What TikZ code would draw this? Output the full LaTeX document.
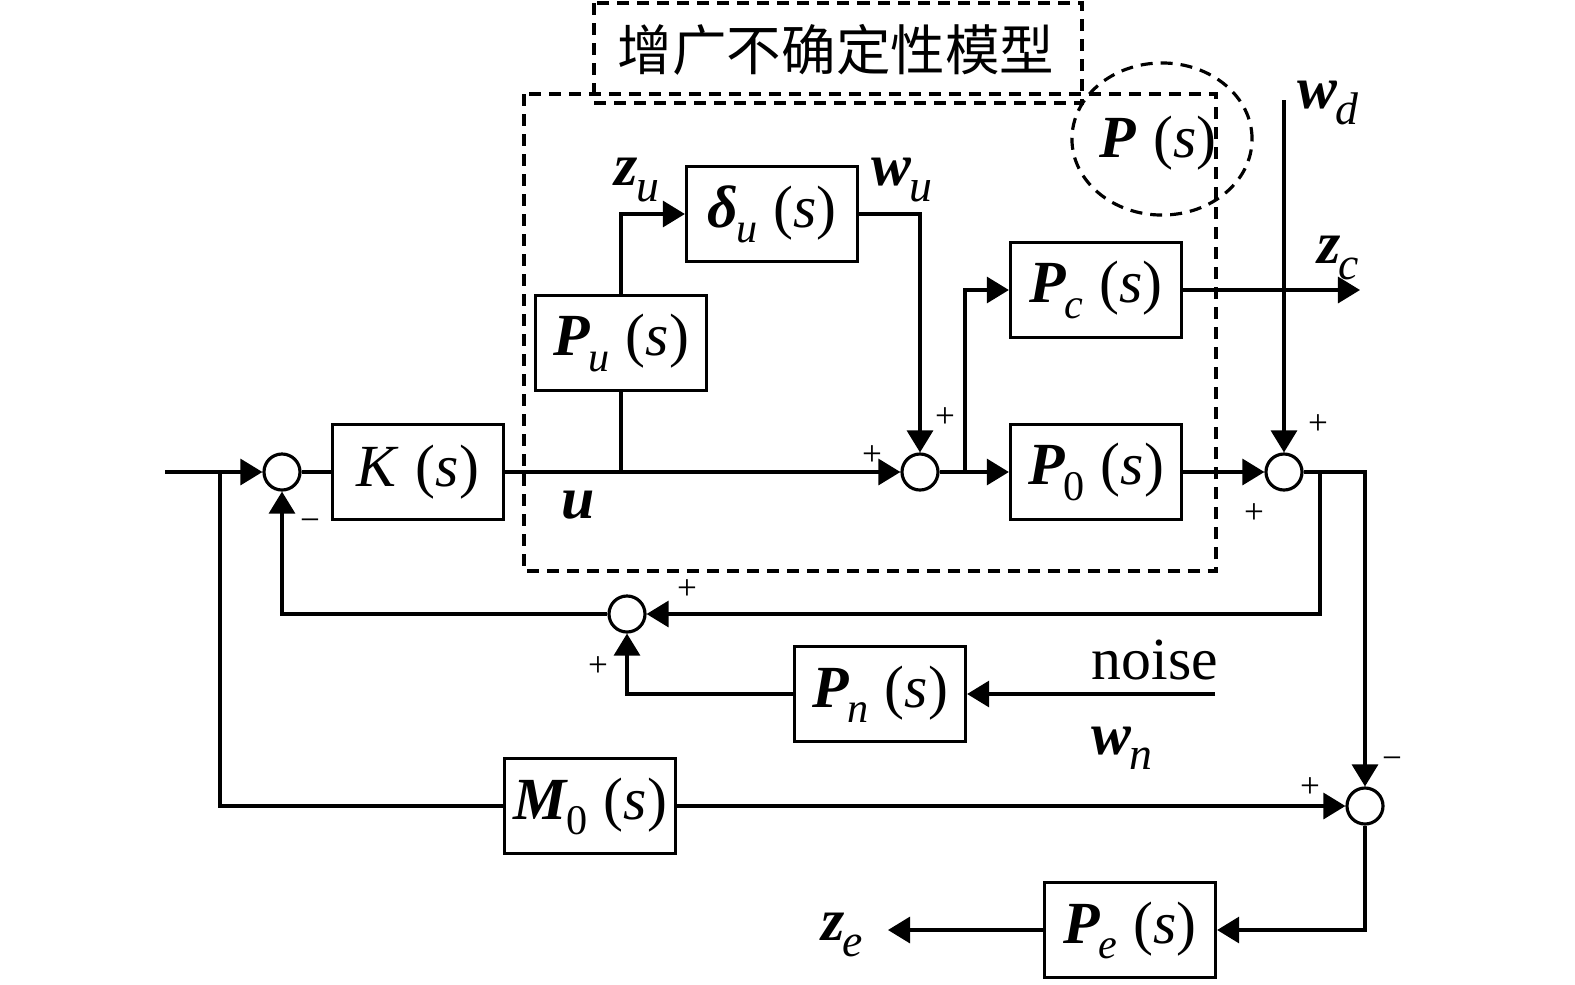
\documentclass[tikz,border=0pt]{standalone}
\usepackage{fontspec}
\setmainfont{Liberation Serif}
\newfontfamily\cjk{Noto Sans CJK SC}
\usetikzlibrary{arrows, arrows.meta}
\usetikzlibrary{calc}

\newcommand{\tf}[2]{\textbf{\textit{#1}}\kern-0.5pt\raisebox{-0.55ex}{\fontsize{12}{14}\selectfont\textit{#2}}\;(\textit{s})}
\newcommand{\sg}[2]{\textbf{\textit{#1}}\kern-0.5pt\raisebox{-0.55ex}{\fontsize{13}{15}\selectfont\textit{#2}}}

\tikzset{
  blk/.style={draw, line width=0.9pt, minimum width=1.71cm, minimum height=0.95cm, inner sep=0pt, font=\fontsize{17}{20}\selectfont},
  sumpt/.style={draw, circle, line width=0.9pt, minimum size=0.36cm, inner sep=0pt},
  sig/.style={font=\fontsize{10}{12}\selectfont, inner sep=0pt},
  lbl/.style={font=\fontsize{17}{20}\selectfont, inner sep=0pt},
  ar/.style={-{Triangle[length=0.22cm, width=0.26cm]}},
  dsh/.style={dash pattern=on 0.12cm off 0.08cm, line width=0.9pt},
}

\begin{document}
\begin{tikzpicture}[x=0.01cm, y=-0.01cm, line width=0.9pt]
      \useasboundingbox (0,0) rectangle (1575,984);

      % dashed frames
      \draw[dsh] (524,94) rectangle (1216,571);
      \draw[dsh] (594,3) rectangle (1082,103);
      \node[inner sep=0pt, font=\cjk\fontsize{15.5}{18}\selectfont] (title) at (836,50) {增广不确定性模型};
      \draw[dsh] (1162,139) ellipse [x radius=0.9cm, y radius=0.76cm];
      \node[lbl] (Ps) at (1158,143) {\textbf{\textit{P}}\;(\textit{s})};

      % blocks and sums
      \node[sumpt] (s1) at (282,472) {};
      \node[blk] (K) at (418,472) {\textit{K}\;(\textit{s})};
      \node[sumpt] (s2) at (920,472) {};
      \node[blk] (Pu) at (621,343) {\tf{P}{u}};
      \node[blk] (Du) at (772,214) {\tf{δ}{u}};
      \node[blk] (Pc) at (1096,290) {\tf{P}{c}};
      \node[blk] (P0) at (1096,472) {\tf{P}{\textup{0}}};
      \node[sumpt] (s3) at (1284,472) {};
      \node[sumpt] (s5) at (627,614) {};
      \node[blk] (Pn) at (880,694) {\tf{P}{n}};
      \node[blk] (M0) at (590,806) {\tf{M}{\textup{0}}};
      \node[sumpt] (s4) at (1365,806) {};
      \node[blk] (Pe) at (1130,930) {\tf{P}{e}};

      \coordinate (in) at (165,472);
      \coordinate (br1) at (220,472);
      \coordinate (bu) at (621,472);
      \coordinate (bc) at (965,472);
      \coordinate (zc) at (1360,290);
      \coordinate (wd) at (1284,100);
      \coordinate (bo) at (1320,472);
      \coordinate (wn) at (1215,694);
      \coordinate (ze) at (888,930);

      % connectors
      \draw (in) -- (br1);
      \draw[ar] (br1) -- (s1);
      \draw (s1) -- (K);
      \draw[ar] (K) -- (s2);
      \draw (bu) -- (Pu.south);
      \draw[ar] (Pu.north) |- (Du);
      \draw[ar] (Du) -| (s2);
      \draw[ar] (s2) -- (P0);
      \draw[ar] (bc) |- (Pc);
      \draw[ar] (Pc) -- (zc);
      \draw[ar] (wd) -- (s3);
      \draw[ar] (P0) -- (s3);
      \draw[ar] (s3) -| (s4);
      \draw[ar] (bo) |- (s5);
      \draw[ar] (s5) -| (s1);
      \draw[ar] (wn) -- (Pn);
      \draw[ar] (Pn) -| (s5);
      \draw (br1) |- (M0);
      \draw[ar] (M0) -- (s4);
      \draw[ar] (s4) |- (Pe);
      \draw[ar] (Pe) -- (ze);

      % signal labels
      \node[lbl] (lzu) at (637,180) {\sg{z}{u}};
      \node[lbl] (lwu) at (902,180) {\sg{w}{u}};
      \node[lbl] (lu) at (578,505) {\textbf{\textit{u}}};
      \node[lbl] (lzc) at (1338,258) {\sg{z}{c}};
      \node[lbl] (lwd) at (1328,103) {\sg{w}{d}};
      \node[lbl] (lnoise) at (1155,660) {noise};
      \node[lbl] (lwn) at (1122,748) {\sg{w}{n}};
      \node[lbl] (lze) at (842,935) {\sg{z}{e}};

      % signs
      \node[sig] at (310,525) {−};
      \node[sig] at (872,456) {+};
      \node[sig] at (945,418) {+};
      \node[sig] at (1318,425) {+};
      \node[sig] at (1254,514) {+};
      \node[sig] at (687,590) {+};
      \node[sig] at (598,667) {+};
      \node[sig] at (1392,763) {−};
      \node[sig] at (1310,788) {+};
    \end{tikzpicture}
\end{document}
